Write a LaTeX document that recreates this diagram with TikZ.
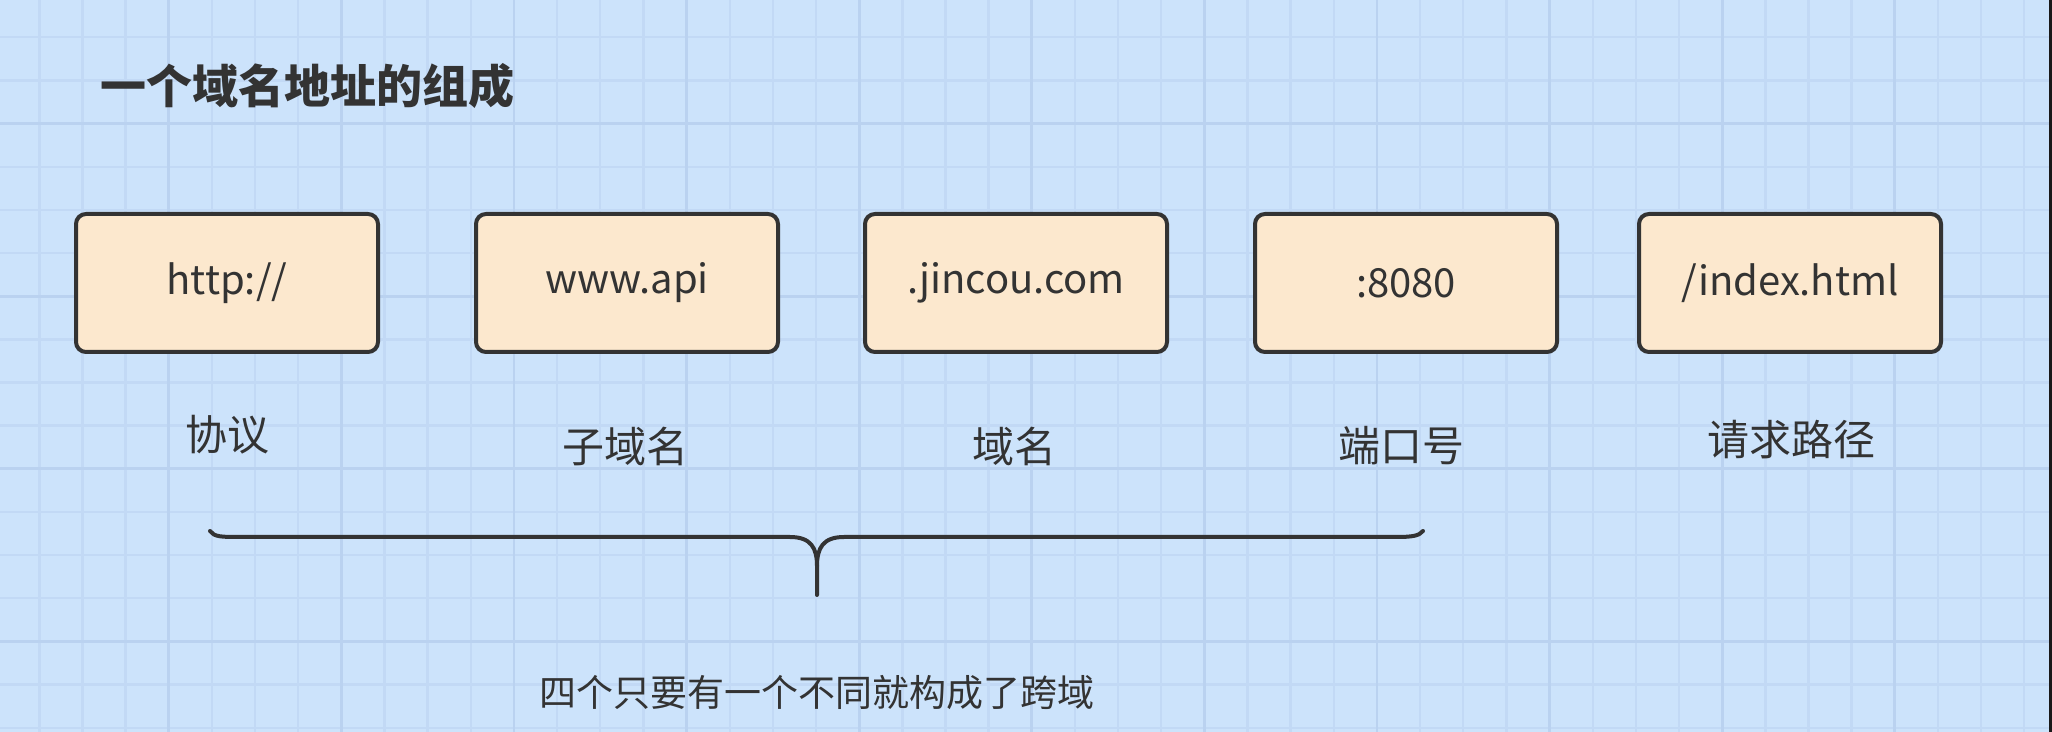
\documentclass[tikz,border=0pt]{standalone}
\usepackage{fontspec}
\setmainfont{Noto Sans CJK SC}
\usepackage{xcolor}
\usepackage{tikz}
\usetikzlibrary{positioning}
\definecolor{PaperBlue}{RGB}{204,227,251}
\definecolor{GridMinor}{RGB}{194,217,245}
\definecolor{GridMajor}{RGB}{186,210,240}
\definecolor{PartFill}{RGB}{252,232,206}
\definecolor{InkGray}{RGB}{51,51,51}
\tikzset{
	gridminor/.style={GridMinor, line width=1.2pt},
	gridmajor/.style={GridMajor, line width=1.4pt},
	part/.style={draw=InkGray, fill=PartFill, line width=2pt, rounded corners=5pt,
		minimum width=151pt, minimum height=69pt, inner sep=0pt,
		text=InkGray, font=\fontsize{20}{24}\selectfont},
	partname/.style={text=InkGray, inner sep=0pt, font=\fontsize{21}{25}\selectfont},
}

\begin{document}
\begin{tikzpicture}[x=0.5pt, y=-0.5pt]
	\useasboundingbox (0,0) rectangle (2052,732);
	\fill[PaperBlue] (0,0) rectangle (2052,732);
	% grid
	\foreach \k in {0,...,46}
		\draw[gridminor] ({39.3+43.15*\k},0) -- ({39.3+43.15*\k},732);
	\foreach \k in {0,...,16}
		\draw[gridminor] (0,{37.3+43.15*\k}) -- (2052,{37.3+43.15*\k});
	\foreach \k in {3,7,...,43}
		\draw[gridmajor] ({39.3+43.15*\k},0) -- ({39.3+43.15*\k},732);
	\foreach \k in {2,6,10,14}
		\draw[gridmajor] (0,{37.3+43.15*\k}) -- (2052,{37.3+43.15*\k});
	\fill[black!90] (2049,0) rectangle (2052,732);

	\node[anchor=west, inner sep=0pt, text=InkGray, font=\bfseries\fontsize{23}{27}\selectfont] (title) at (100,86) {一个域名地址的组成};

	\node[part] (proto) at (227,283) {http://};
	\node[part] (sub) at (627,283) {www.api};
	\node[part] (domain) at (1016,283) {.jincou.com};
	\node[part] (port) at (1406,283) {:8080};
	\node[part] (path) at (1790,283) {/index.html};

	\node[partname] (protoname) at (227,435) {协议};
	\node[partname] (subname) at (625,446) {子域名};
	\node[partname] (domainname) at (1014,446) {域名};
	\node[partname] (portname) at (1401,446) {端口号};
	\node[partname] (pathname) at (1791,440) {请求路径};

	% brace under the four parts
	\draw[InkGray, line width=2pt, line cap=round, line join=round]
		(210,531) .. controls (214,537) and (222,537) .. (240,537) -- (790,537)
		.. controls (811,537) and (817,548) .. (817,566) -- (817,595);
	\draw[InkGray, line width=2pt, line cap=round, line join=round]
		(817,566) .. controls (817,548) and (823,537) .. (844,537) -- (1395,537)
		.. controls (1412,537) and (1419,536) .. (1423,531);

	\node[text=InkGray, inner sep=0pt, font=\fontsize{18.5}{22}\selectfont] (rule) at (817,693) {四个只要有一个不同就构成了跨域};
\end{tikzpicture}
\end{document}
